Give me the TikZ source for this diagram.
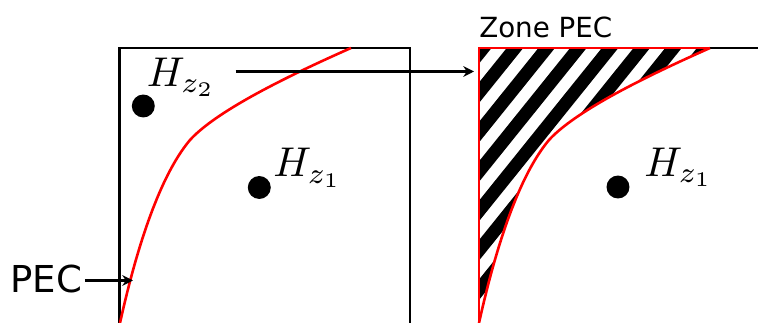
\documentclass[tikz,border=0pt]{standalone}
\usepackage{fontspec}
\setmainfont{DejaVu Sans}
\usetikzlibrary{arrows.meta}
\tikzset{
  frame/.style={draw=black,line width=1.75pt},
  redline/.style={draw=red,line width=1.95pt},
  pt/.style={circle,fill=black,inner sep=0pt,minimum size=17.2pt},
  mlabel/.style={scale=3.12,inner sep=0pt,anchor=base west},
  conn/.style={draw=black,line width=1.6pt,-{Stealth[length=8pt,width=8pt]}},
}
\begin{document}
\begin{tikzpicture}[x=0.75pt,y=-0.75pt]
\useasboundingbox (0,0) rectangle (758,323);
% hatch
\begin{scope}
  \clip (479,323) .. controls (494,255) and (517,178) .. (549,140)
     .. controls (571,116) and (624,86) .. (710,48) -- (479,48) -- cycle;
  \foreach \k in {-1,...,6}{
    \pgfmathsetmacro{\yu}{82.5+39.4*\k}
    \pgfmathsetmacro{\yl}{103+39.4*\k}
    \fill[black] (479,\yu) -- (779,\yu-372.9) -- (779,\yl-372.9) -- (479,\yl) -- cycle;
  }
\end{scope}
% frames
\draw[frame] (119.5,323) -- (119.5,48) -- (410,48) -- (410,323);
\draw[frame] (479,48) -- (758,48);
% red curves and zone outline
\draw[redline] (120,323) .. controls (135,255) and (158,178) .. (190,140)
     .. controls (212,116) and (265,86) .. (351,48);
\draw[redline,line join=miter] (710,48) -- (479,48) -- (479,323);
\draw[redline] (479,323) .. controls (494,255) and (517,178) .. (549,140)
     .. controls (571,116) and (624,86) .. (710,48);
% points
\node[pt] (p2) at (143.3,106) {};
\node[pt] (p1) at (259.3,187.5) {};
\node[pt] (q1) at (618,187) {};
% labels
\node[mlabel] (h2) at (146,86.5) {$H_{z_2}$};
\node[mlabel] (h1) at (272.5,177) {$H_{z_1}$};
\node[mlabel] (h3) at (643.5,176.5) {$H_{z_1}$};
\node[inner sep=0pt,anchor=base west,font=\fontsize{27.8}{32}\selectfont] (pec) at (10,292.5) {PEC};
\node[inner sep=0pt,anchor=base west,font=\fontsize{20.8}{24}\selectfont] (zone) at (479,37.5) {Zone PEC};
% connectors
\coordinate (pectip) at (133,280.5);
\coordinate (zstart) at (235.5,71.5);
\coordinate (zend) at (474,71.5);
\draw[conn] (pec.east |- pectip) ++(2pt,0) -- (pectip);
\draw[conn] (zstart) -- (zend);
\end{tikzpicture}
\end{document}
